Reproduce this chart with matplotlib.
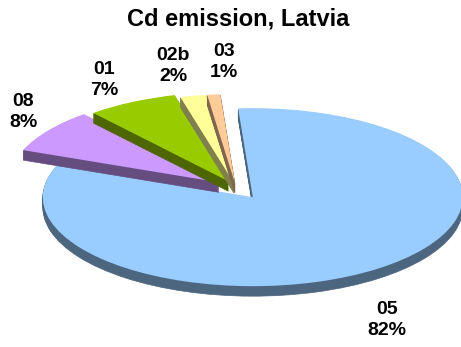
import matplotlib.pyplot as plt
from matplotlib.patches import Wedge
from matplotlib.transforms import Affine2D
import numpy as np

plt.rcParams['font.family'] = ['Liberation Sans', 'DejaVu Sans']

# Cd emission shares by sector
labels = ['05', '08', '01', '02b', '03']
values = [82, 8, 7, 2, 1]
colors = ['#99ccff', '#cc99ff', '#99cc00', '#ffff99', '#ffcc99']
sides = ['#4d6680', '#664d80', '#4d6600', '#80804d', '#80664d']
explode = [0.135, 0.10, 0.08, 0.05, 0.05]

# label anchors (pixel coords)
label_pos = [(387, 320), (23, 112), (104, 80), (173, 66), (224, 62)]

# pie geometry in pixels: centre, radii, thickness
cx, cy = 236, 187.5
rx, ry = 210, 89
depth = 10
start = 94

fig = plt.figure(figsize=(4.61, 3.47), dpi=100)
ax = fig.add_axes([0, 0, 1, 1])
ax.set_xlim(0, 461)
ax.set_ylim(347, 0)
ax.axis('off')

total = sum(values)
cum = 0
for i, v in enumerate(values):
    t2 = start - cum * 360 / total
    t1 = t2 - v * 360 / total
    cum += v
    mid = np.radians((t1 + t2) / 2)
    ox = explode[i] * np.cos(mid)
    oy = explode[i] * np.sin(mid)
    # side walls: stacked darker copies
    for dz in range(depth, 0, -1):
        tr = Affine2D().scale(rx, -ry).translate(cx, cy + dz) + ax.transData
        ax.add_patch(Wedge((ox, oy), 1, t1, t2, facecolor=sides[i],
                           edgecolor=sides[i], lw=0.5, transform=tr))
    tr = Affine2D().scale(rx, -ry).translate(cx, cy) + ax.transData
    ax.add_patch(Wedge((ox, oy), 1, t1, t2, facecolor=colors[i],
                       edgecolor='none', transform=tr))

for i, v in enumerate(values):
    x, y = label_pos[i]
    ax.text(x, y, f'{labels[i]}\n{v / total:.0%}', ha='center', va='center',
            fontsize=14, fontweight='bold', linespacing=1.3)

ax.text(238, 19, 'Cd emission, Latvia', ha='center', va='center',
        fontsize=17, fontweight='bold')

fig.savefig('out.png', dpi=100)
